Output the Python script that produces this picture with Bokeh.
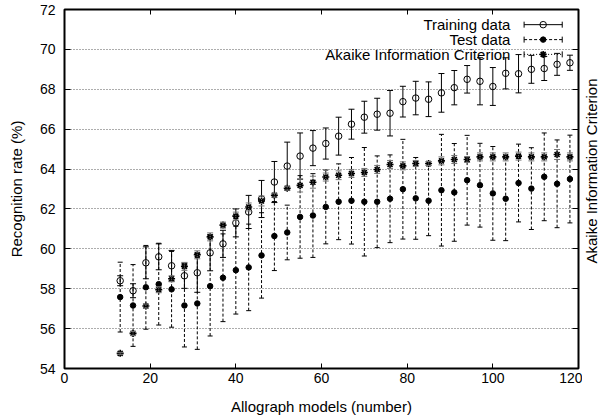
import math
from bokeh.plotting import figure
from bokeh.layouts import row
from bokeh.models import (ColumnDataSource, Range1d, LinearAxis, FixedTicker, Whisker, TeeHead)
from bokeh.core.properties import value
from bokeh.embed import file_html
from bokeh.resources import INLINE

# ---------------- data ----------------
models = [13, 16, 19, 22, 25, 28, 31, 34, 37, 40, 43, 46, 49, 52, 55, 58, 61, 64,
          67, 70, 73, 76, 79, 82, 85, 88, 91, 94, 97, 100, 103, 106, 109, 112, 115, 118]

train_rate = [58.4, 57.9, 59.3, 59.6, 59.15, 58.65, 58.8, 59.8, 60.25, 61.3, 61.85, 62.5,
              63.35, 64.15, 64.65, 65.05, 65.28, 65.65, 66.25, 66.6, 66.75, 66.8, 67.38, 67.56,
              67.5, 67.82, 68.08, 68.5, 68.4, 68.14, 68.8, 68.78, 69.0, 69.04, 69.25, 69.33]
train_err = [0.25, 0.35, 0.8, 0.65, 0.77, 0.63, 0.98, 0.9, 0.68, 0.7, 0.83, 0.93,
             1.03, 1.2, 1.16, 0.88, 0.78, 0.95, 0.75, 0.8, 0.8, 1.14, 0.77, 0.84,
             0.87, 0.97, 0.86, 0.69, 1.18, 0.95, 0.78, 0.96, 0.7, 0.6, 0.55, 0.38]

test_rate = [57.58, 57.16, 58.07, 58.23, 57.97, 57.16, 57.26, 58.13, 58.55, 58.93, 59.07, 59.67,
             60.64, 60.82, 61.6, 61.67, 62.1, 62.36, 62.41, 62.36, 62.36, 62.51, 62.99, 62.53,
             62.41, 62.94, 62.83, 63.44, 63.19, 62.78, 62.51, 63.3, 63.02, 63.61, 63.26, 63.5]
test_err = [1.75, 2.05, 2.1, 2.05, 1.9, 2.08, 2.3, 2.5, 2.2, 2.2, 2.17, 2.14,
            1.73, 1.37, 2.07, 2.1, 1.85, 1.9, 2.17, 2.72, 2.3, 2.2, 2.5, 2.05,
            1.75, 2.8, 2.45, 2.25, 2.1, 2.35, 2.1, 1.95, 2.05, 2.2, 2.2, 2.2]

aic_rate = [54.76, 55.76, 57.13, 57.95, 58.5, 59.12, 59.7, 60.6, 61.19, 61.64, 62.1, 62.4,
            62.69, 63.04, 63.18, 63.34, 63.6, 63.69, 63.78, 63.83, 63.98, 64.23, 64.16, 64.28,
            64.28, 64.41, 64.48, 64.48, 64.61, 64.61, 64.61, 64.65, 64.61, 64.61, 64.73, 64.61]
aic_err = [0.05, 0.1, 0.1, 0.15, 0.15, 0.2, 0.2, 0.2, 0.15, 0.2, 0.2, 0.25,
           0.1, 0.1, 0.33, 0.3, 0.2, 0.22, 0.2, 0.2, 0.2, 0.2, 0.2, 0.15,
           0.1, 0.2, 0.2, 0.15, 0.2, 0.2, 0.2, 0.2, 0.2, 0.2, 0.25, 0.2]

x_ticks = [0, 20, 40, 60, 80, 100, 120]
y_ticks = [54, 56, 58, 60, 62, 64, 66, 68, 70, 72]

legend_labels = ["Training data", "Test data", "Akaike Information Criterion"]
right_label = "Akaike Information Criterion"

# legend placement (data units of the axes)
LEG_TEXT_X = 104.1
LEG_X0, LEG_X1 = 107.3, 116.2
LEG_Y = [71.24, 70.49, 69.75]

FONT = "Liberation Sans"
MAIN_W, SIDE_W, H = 582, 20, 419

# ---------------- main figure ----------------
p = figure(width=MAIN_W, height=H, output_backend="svg", toolbar_location=None,
           x_range=Range1d(0, 120), y_range=Range1d(54, 72),
           min_border_left=64, min_border_right=4, min_border_top=9, min_border_bottom=51,
           x_axis_label="Allograph models (number)", y_axis_label="Recognition rate (%)")
p.background_fill_color = "white"
p.border_fill_color = "white"
p.outline_line_color = "black"
p.outline_line_width = 2

p.xgrid.visible = False
p.ygrid.ticker = FixedTicker(ticks=y_ticks)
p.ygrid.grid_line_color = "#333333"
p.ygrid.grid_line_alpha = 0.8
p.ygrid.grid_line_dash = "1 2"
p.ygrid.grid_line_width = 1

def style_axis(ax, ticks, tick_in, show_labels=True):
    ax.ticker = FixedTicker(ticks=ticks)
    ax.axis_line_color = None
    ax.major_tick_in = tick_in
    ax.major_tick_out = 0
    ax.major_tick_line_color = "black"
    ax.major_tick_line_width = 1
    ax.minor_tick_line_color = None
    ax.major_label_text_font = FONT
    ax.major_label_text_color = "black"
    ax.major_label_text_font_size = "14px"
    ax.axis_label_text_font = FONT
    ax.axis_label_text_font_style = "normal"
    ax.axis_label_text_color = "black"
    ax.axis_label_text_font_size = "15px"
    if not show_labels:
        ax.major_label_overrides = {t: "" for t in ticks}
        ax.major_label_standoff = 0

style_axis(p.xaxis[0], x_ticks, 5)
p.xaxis[0].major_label_standoff = 4
p.xaxis[0].axis_label_standoff = 12
style_axis(p.yaxis[0], y_ticks, 6)
p.yaxis[0].major_label_standoff = 9
p.yaxis[0].axis_label_standoff = 12

top_ax = LinearAxis(axis_label=None)
style_axis(top_ax, x_ticks, 5, show_labels=False)
p.add_layout(top_ax, "above")

right_ax = LinearAxis(axis_label=None)
style_axis(right_ax, y_ticks, 6, show_labels=False)
p.add_layout(right_ax, "right")

# ---------------- data sources ----------------
src = ColumnDataSource(dict(
    x=models,
    tr=train_rate, tr_lo=[v - e for v, e in zip(train_rate, train_err)],
    tr_hi=[v + e for v, e in zip(train_rate, train_err)],
    te=test_rate, te_lo=[v - e for v, e in zip(test_rate, test_err)],
    te_hi=[v + e for v, e in zip(test_rate, test_err)],
    ai=aic_rate, ai_lo=[v - e for v, e in zip(aic_rate, aic_err)],
    ai_hi=[v + e for v, e in zip(aic_rate, aic_err)],
))

def whisker(source, base, lo, hi, dash, color, dim="height", head=5):
    w = Whisker(source=source, base=base, lower=lo, upper=hi, dimension=dim,
                line_color=color, line_width=1, line_dash=dash, level="glyph",
                upper_head=TeeHead(size=head, line_color=color, line_width=1),
                lower_head=TeeHead(size=head, line_color=color, line_width=1))
    p.add_layout(w)
    return w

# Training
whisker(src, "x", "tr_lo", "tr_hi", "solid", "black", head=6)
# Test
whisker(src, "x", "te_lo", "te_hi", "3 2", "black")
# AIC
whisker(src, "x", "ai_lo", "ai_hi", "1 1", "#777777", head=6)

p.scatter("x", "tr", source=src, marker="circle", size=6.5, fill_alpha=0,
          line_color="black", line_width=1)
p.scatter("x", "te", source=src, marker="circle", size=5.5, fill_color="black",
          line_color="black")
p.scatter("x", "ai", source=src, marker="asterisk", size=7, line_color="black",
          line_width=1.6)

# ---------------- legend (gnuplot style: text right, sample left) ----------------
leg = ColumnDataSource(dict(tx=[LEG_TEXT_X] * 3, y=LEG_Y, label=legend_labels))
p.text(x="tx", y="y", text="label", source=leg, text_align="right",
       text_baseline="middle", text_font=value(FONT), text_font_size="15px",
       text_color="black")

dashes = ["solid", "3 2", "1 2"]
for i in range(3):
    s = ColumnDataSource(dict(y=[LEG_Y[i]], x0=[LEG_X0], x1=[LEG_X1],
                              xc=[(LEG_X0 + LEG_X1) / 2]))
    whisker(s, "y", "x0", "x1", dashes[i], "black", dim="width", head=6)
    if i == 0:
        p.scatter("xc", "y", source=s, marker="circle", size=6.5, fill_color="white",
                  line_color="black")
    elif i == 1:
        p.scatter("xc", "y", source=s, marker="circle", size=5.5, fill_color="black",
                  line_color="black")
    else:
        p.scatter("xc", "y", source=s, marker="asterisk", size=7, line_color="black",
                  line_width=1.6)

# ---------------- right-hand axis title (separate narrow panel) ----------------
side = figure(width=SIDE_W, height=H, output_backend="svg", toolbar_location=None,
              x_range=Range1d(0, SIDE_W), y_range=Range1d(0, H), min_border=0)
side.axis.visible = False
side.grid.visible = False
side.outline_line_color = None
side.background_fill_color = "white"
side.border_fill_color = "white"
side.text(x=[9], y=[230.5], text=[right_label], angle=math.pi / 2,
          text_align="center", text_baseline="middle", text_font=value(FONT),
          text_font_size="15px", text_color="black")

layout = row(p, side)
open("out.html", "w").write(file_html(layout, INLINE))
